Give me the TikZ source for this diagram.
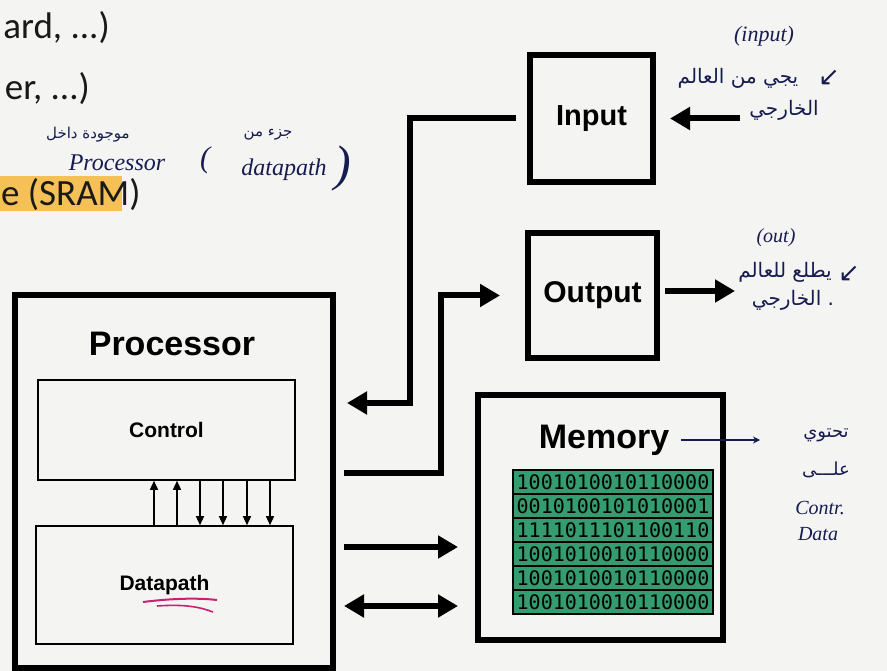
\documentclass[tikz,border=0pt]{standalone}
\usepackage{fontspec}
\setmainfont{Liberation Sans}
\newfontfamily\slidefont{Carlito}
\newfontfamily\handfont{Liberation Serif}
\newfontfamily\arabicfont[Script=Arabic]{DejaVu Sans}
\newfontfamily\bitfont{DejaVu Sans Mono}
\TeXXeTstate=1
\usetikzlibrary{arrows.meta,positioning}

\definecolor{paper}{RGB}{244,244,242}
\definecolor{slidetext}{RGB}{25,25,25}
\definecolor{marker}{RGB}{246,184,58}
\definecolor{ink}{RGB}{22,28,80}
\definecolor{cellgreen}{RGB}{52,156,110}
\definecolor{pen}{RGB}{205,30,115}

\tikzset{
  unit/.style={draw, line width=6pt, inner sep=0pt},
  part/.style={draw, line width=1.6pt, inner sep=0pt},
  boxtitle/.style={font=\bfseries\fontsize{#1}{#1}\selectfont},
  slide/.style={text=slidetext, inner sep=0pt, font=\slidefont\fontsize{37}{37}\selectfont},
  bus/.style={line width=6pt, -{Triangle[length=20pt,width=22pt]}},
  bibus/.style={line width=6pt, {Triangle[length=20pt,width=22pt]}-{Triangle[length=20pt,width=22pt]}},
  sig/.style={line width=1.4pt, -{Triangle[length=9pt,width=8pt]}},
  bitrow/.style={draw, line width=2pt, fill=cellgreen, minimum width=200pt, minimum height=24pt,
    inner sep=0pt, font=\bitfont\fontsize{20}{20}\selectfont},
  note/.style={text=ink, inner sep=0pt, font=\arabicfont\fontsize{#1}{#1}\selectfont},
  hand/.style={text=ink, inner sep=0pt, font=\handfont\itshape\fontsize{#1}{#1}\selectfont},
  pencil/.style={draw=ink, line width=1.5pt},
}

\begin{document}
\begin{tikzpicture}[x=1pt, y=-1pt]
    % Paper and page size
    \fill[paper] (0,0) rectangle (887,671);
    \useasboundingbox (0,0) rectangle (887,671);

    % Left over lines of the slide text, one of them marked
    \fill[marker, opacity=0.85] (0,176) rectangle (122,211);
    \node[slide, anchor=base east] (ln1) at (110,39) {ard, ...)};
    \node[slide, anchor=base east] (ln2) at (90,100) {er, ...)};
    \node[slide, anchor=base west] (ln3) at (1,206) {e (SRAM)};

    % Processor with control and datapath
    \node[unit, minimum width=318pt, minimum height=373pt] (proc) at (174,481.5) {};
    \node[boxtitle=34] (proctitle) at (172,344) {Processor};
    \node[part, minimum width=257pt, minimum height=100pt, boxtitle=21] (ctrl) at (166.5,430) {Control};
    \node[part, minimum width=257pt, minimum height=118pt, boxtitle=21] (dp) at (164.5,585) {Datapath};
    \foreach \x in {154,177}
        \draw[sig] (dp.north -| \x,0) -- (ctrl.south -| \x,0);
    \foreach \x in {200,223,247,270}
        \draw[sig] (ctrl.south -| \x,0) -- (dp.north -| \x,0);

    % Input, output and memory
    \node[unit, minimum width=123pt, minimum height=127pt, boxtitle=29] (in) at (591.5,118.5) {Input};
    \node[unit, minimum width=129pt, minimum height=125pt, boxtitle=30] (out) at (592.5,295.5) {Output};
    \node[unit, minimum width=245pt, minimum height=245pt] (mem) at (600.5,517.5) {};
    \node[boxtitle=34] (memtitle) at (604,440) {Memory};
    \foreach \bits [count=\r] in {1001010010110000,0010100101010001,1111011101100110,
                                  1001010010110000,1001010010110000,1001010010110000}
        \node[bitrow] (row\r) at (613,458+24*\r) {\bits};

    % Ports on the processor side and outside ends
    \coordinate (pIn) at (347,403);
    \coordinate (pOut) at (344,473);
    \coordinate (pMem) at (344,547);
    \coordinate (pBi) at (344,606);
    \coordinate (inSrc) at (740,118.5);
    \coordinate (outDst) at (735,291);

    % Buses
    \draw[bus, shorten <=11pt] (in.west) -- ++(-117,0) |- (pIn);
    \draw[bus, shorten >=25pt] (pOut) -- ++(97,0) |- (out.west);
    \draw[bus, shorten >=17pt] (pMem) -- (pMem -| mem.west);
    \draw[bibus, shorten >=17pt] (pBi) -- (pBi -| mem.west);
    \draw[bus, shorten >=14pt] (inSrc) -- (inSrc -| in.east);
    \draw[bus, shorten <=5pt] (outDst -| out.east) -- (outDst);

    % Notes in pen
    \node[note=15] (insideTxt) at (88,135) {\beginR موجودة داخل\endR};
    \node[hand=24] (procHand) at (117,163) {Processor};
    \node[hand=30] (lpar) at (205,160) {(};
    \node[note=15] (partTxt) at (268,135) {\beginR جزء من\endR};
    \node[hand=24] (dpHand) at (284,170) {datapath};
    \node[hand=50] (rpar) at (343,168) {)};

    \node[hand=22] (inTag) at (764,36) {(input)};
    \node[note=20] (inNote1) at (738,78) {\beginR يجي من العالم\endR};
    \node[note=26] (inMark) at (829,78) {↙};
    \node[note=20] (inNote2) at (784,110) {\beginR الخارجي\endR};

    \node[hand=20] (outTag) at (776,238) {(out)};
    \node[note=20] (outNote1) at (785,272) {\beginR يطلع للعالم\endR};
    \node[note=26] (outMark) at (849,274) {↙};
    \node[note=20] (outNote2) at (793,300) {\beginR الخارجي\endR\ .};

    \coordinate (memPtr) at (760,440);
    \draw[pencil, -{Stealth[length=7pt,width=7pt]}] ([xshift=8pt]memtitle.east) -- (memPtr);
    \node[note=18] (memNote1) at (826,435) {\beginR تحتوي\endR};
    \node[note=18] (memNote2) at (826,470) {\beginR علـــى\endR};
    \node[hand=20] (memNote3) at (820,508) {Contr.};
    \node[hand=20] (memNote4) at (818,534) {Data};

    % Underline under Datapath
    \draw[pen, line width=2pt] (143,602) .. controls (175,598) and (200,598) .. (217,600);
    \draw[pen, line width=1.6pt] (157,606) .. controls (185,604) and (200,607) .. (213,612);
\end{tikzpicture}
\end{document}
